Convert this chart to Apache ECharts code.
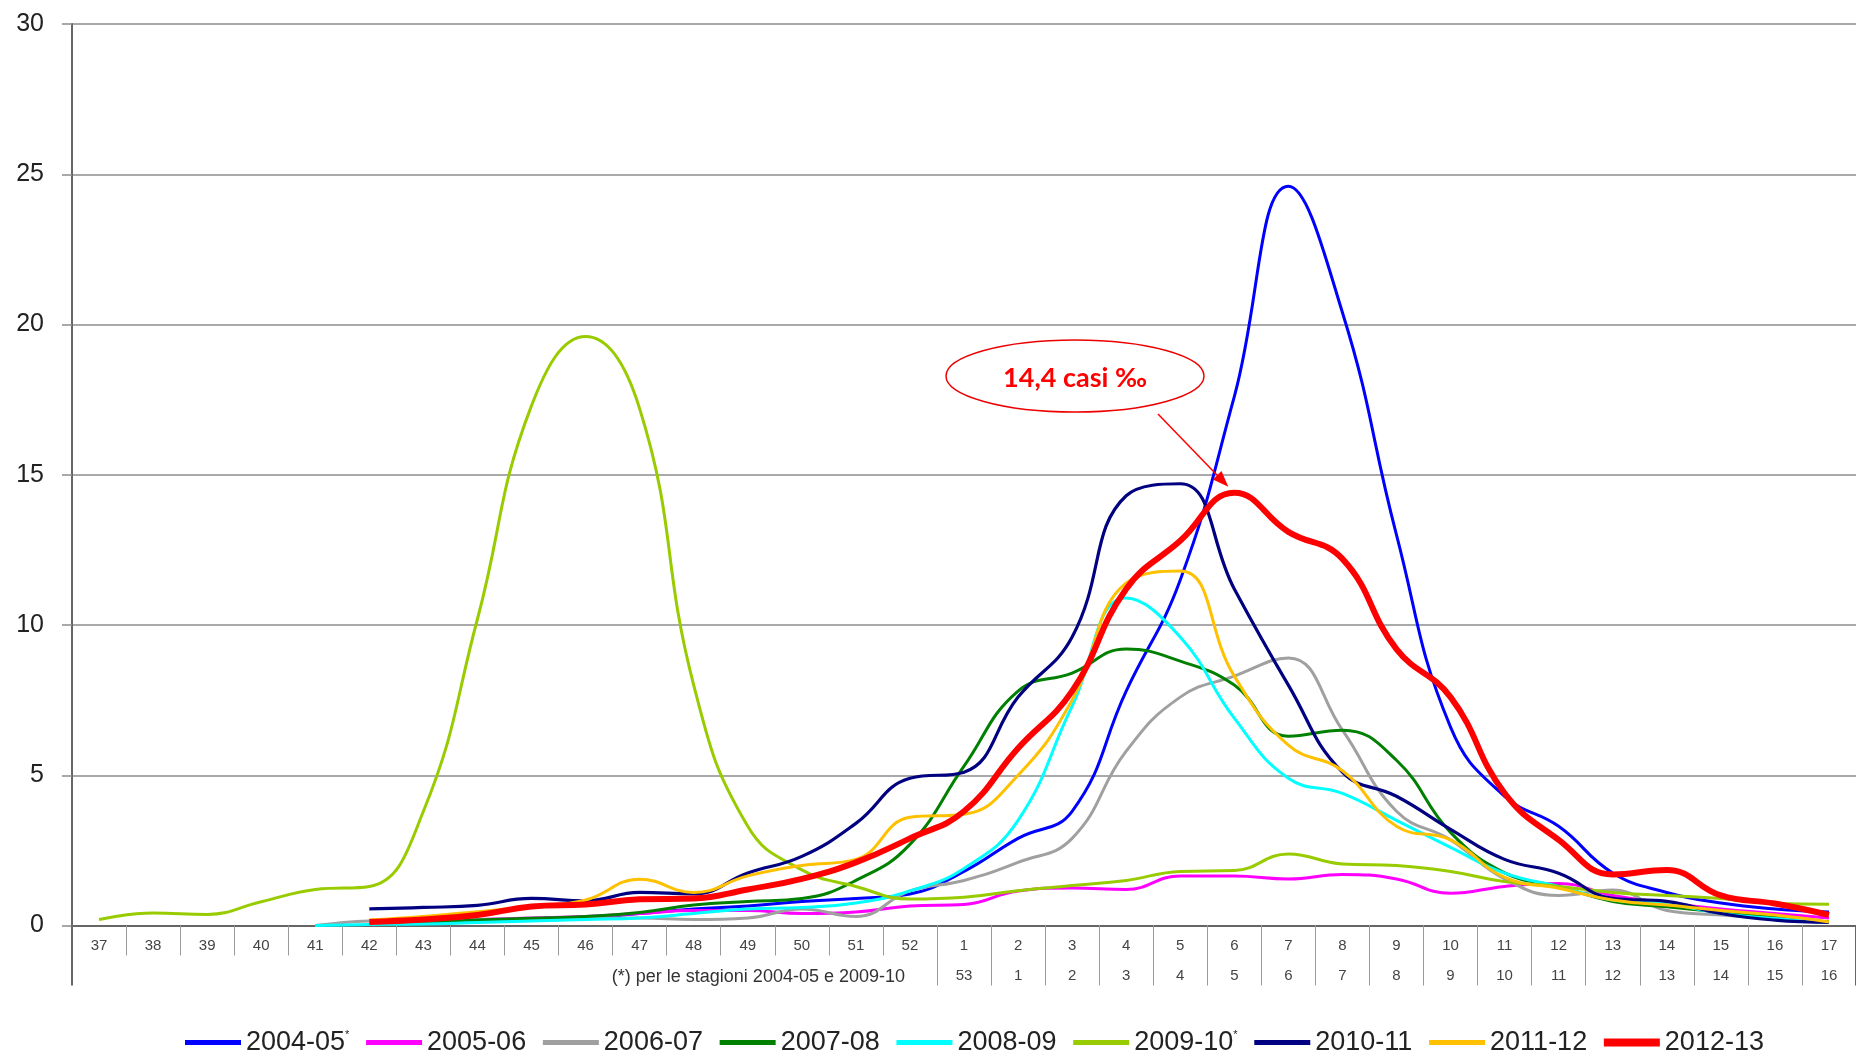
<!DOCTYPE html>
<html>
<head>
<meta charset="utf-8">
<script src="https://cdn.jsdelivr.net/npm/echarts@6/dist/echarts.min.js"></script>
<style>
html,body{margin:0;padding:0;background:#fff;}
#chart{width:1856px;height:1050px;}
</style>
</head>
<body>
<div id="chart"></div>
<script>
// ---- data ----
const weeks = ['37','38','39','40','41','42','43','44','45','46','47','48','49','50','51','52',
  '1','2','3','4','5','6','7','8','9','10','11','12','13','14','15','16','17'];
const weeksAlt = ['','','','','','','','','','','','','','','','',
  '53','1','2','3','4','5','6','7','8','9','10','11','12','13','14','15','16'];
const yTicks = [0,5,10,15,20,25,30];
const seasons = ['2004-05*','2005-06','2006-07','2007-08','2008-09','2009-10*','2010-11','2011-12','2012-13'];
const colors = ['#0000FF','#FF00FF','#A0A0A0','#008000','#00FFFF','#99CC00','#000080','#FFC000','#FF0000'];

const s2004_05 = [null,null,null,null,null,0.05,0.1,0.15,0.2,0.25,0.4,0.55,0.65,0.8,0.9,1.05,
  1.8,2.9,3.8,7.8,11.5,17.6,24.6,20.4,13.0,6.6,4.3,3.3,1.75,1.1,0.75,0.55,0.45];
const s2005_06 = [null,null,null,null,null,0.1,0.15,0.2,0.25,0.3,0.4,0.5,0.5,0.4,0.45,0.65,
  0.7,1.15,1.25,1.2,1.65,1.65,1.55,1.7,1.55,1.07,1.3,1.4,1.0,0.75,0.55,0.4,0.25];
const s2006_07 = [null,null,null,null,0,0.15,0.18,0.2,0.22,0.25,0.25,0.2,0.25,0.55,0.3,1.15,
  1.5,2.1,2.9,5.8,7.6,8.3,8.9,6.5,3.8,2.85,1.55,1.0,1.18,0.5,0.35,0.23,0.12];
const s2007_08 = [null,null,null,null,null,0.05,0.08,0.18,0.24,0.3,0.43,0.68,0.8,0.9,1.5,2.7,
  5.3,7.8,8.4,9.2,8.8,8.0,6.3,6.5,5.5,3.1,1.75,1.3,0.8,0.62,0.45,0.3,0.12];
const s2008_09 = [null,null,null,null,0,0.03,0.05,0.1,0.15,0.2,0.25,0.4,0.55,0.6,0.75,1.15,
  1.9,3.5,7.3,10.9,9.6,6.9,4.9,4.4,3.5,2.6,1.74,1.3,0.85,0.73,0.4,0.23,0.1];
const s2009_10 = [0.2,0.42,0.37,0.79,1.2,1.3,3.8,10.2,17.3,19.6,17.2,8.0,3.3,1.85,1.3,0.88,
  0.94,1.16,1.33,1.5,1.8,1.83,2.38,2.05,2.0,1.8,1.46,1.3,1.1,1.0,0.9,0.73,0.71];
const s2010_11 = [null,null,null,null,null,0.55,0.6,0.67,0.9,0.82,1.1,1.05,1.75,2.3,3.4,4.9,
  5.1,7.6,9.6,14.3,14.7,11.2,8.0,5.1,4.3,3.2,2.2,1.74,0.9,0.8,0.4,0.18,0.1];
const s2011_12 = [null,null,null,null,null,0.18,0.3,0.46,0.63,0.85,1.54,1.1,1.65,2.0,2.2,3.6,
  3.7,5.0,7.5,11.4,11.8,8.3,6.0,5.15,3.3,2.85,1.6,1.24,0.85,0.68,0.5,0.35,0.12];
const s2012_13 = [null,null,null,null,null,0.12,0.2,0.35,0.63,0.7,0.87,0.9,1.2,1.55,2.1,2.9,
  3.8,5.9,7.8,11.2,12.8,14.4,13.1,12.2,9.2,7.6,4.4,2.85,1.7,1.85,1.0,0.73,0.35];
const seriesData = [s2004_05,s2005_06,s2006_07,s2007_08,s2008_09,s2009_10,s2010_11,s2011_12,s2012_13];
const widths = [3,3,3,3,3,3,3.2,3,6];
const legendThick = [5,5,5,5,5,5,5,5,8];
const peakLabel = '14,4 casi ‰';
const noteText = '(*) per le stagioni 2004-05 e 2009-10';

// ---- chart ----
const chart = echarts.init(document.getElementById('chart'), null, {renderer:'canvas'});
const sans = '"Liberation Sans",Arial,sans-serif';
const catW = 54.3;

const option = {
  animation:false,
  backgroundColor:'#fff',
  grid:{left:72, top:24, width:catW*weeks.length, height:901.5, containLabel:false},
  legend:{
    data: seasons.map(function(n,k){ return {name:n, icon:'path://M0,0H56V'+legendThick[k]+'H0Z'}; }),
    top:1024, left:180, itemWidth:56, itemHeight:8, itemGap:16.7,
    formatter:function(n){ return n.endsWith('*') ? '{t|'+n.slice(0,-1)+'}{s|*}' : '{t|'+n+'}'; },
    textStyle:{fontSize:27, fontFamily:sans, color:'#222', rich:{
      t:{fontSize:27, fontFamily:sans, color:'#222'},
      s:{fontSize:11, fontFamily:sans, color:'#222', verticalAlign:'top', padding:[0,0,14,0]}
    }}
  },
  xAxis:[
    {type:'category', data:weeks, position:'bottom', boundaryGap:true,
      axisLine:{show:true, lineStyle:{color:'#666', width:2}},
      axisTick:{show:true, interval:0, length:30, lineStyle:{color:'#9a9a9a', width:1}},
      axisLabel:{interval:0, margin:5, fontSize:15, color:'#444', fontFamily:sans, lineHeight:30,
        formatter:function(v,i){ return weeksAlt[i] ? v+'\n'+weeksAlt[i] : v; }},
      splitLine:{show:false}},
    {type:'category', data:weeks, position:'bottom', boundaryGap:true,
      axisLine:{show:false}, axisLabel:{show:false}, splitLine:{show:false},
      axisTick:{show:true, interval:function(i){ return i>=16; }, length:60, lineStyle:{color:'#9a9a9a', width:1}}},
    {type:'category', data:weeks, position:'bottom', boundaryGap:true,
      axisLine:{show:false}, axisLabel:{show:false}, splitLine:{show:false},
      axisTick:{show:true, interval:function(i){ return i===0; }, length:60, lineStyle:{color:'#666', width:2}}}
  ],
  yAxis:{type:'value', min:yTicks[0], max:yTicks[yTicks.length-1], interval:5,
    axisLine:{show:true, lineStyle:{color:'#666', width:2}},
    axisTick:{show:true, length:10, lineStyle:{color:'#8c8c8c', width:1.5}},
    splitLine:{show:true, lineStyle:{color:'#8c8c8c', width:1.5}},
    axisLabel:{fontSize:25, color:'#222', margin:28, fontFamily:sans}},
  series: seasons.map(function(name,k){
    return {name:name, type:'line', xAxisIndex:0, yAxisIndex:0, data:seriesData[k],
      smooth:0.45, showSymbol:false, symbol:'none', connectNulls:false,
      lineStyle:{color:colors[k], width:widths[k]}, itemStyle:{color:colors[k]}, z:2+k};
  })
};
chart.setOption(option);

// annotation anchored on the 2012-13 peak
const pi = s2012_13.indexOf(Math.max.apply(null, s2012_13.filter(function(v){return v!=null;})));
const p = chart.convertToPixel({xAxisIndex:0, yAxisIndex:0}, [pi, s2012_13[pi]]);
const tip = [p[0]-6, p[1]-6];
const start = [1158, 414];
const dx = tip[0]-start[0], dy = tip[1]-start[1], L = Math.sqrt(dx*dx+dy*dy);
const ux = dx/L, uy = dy/L;
const base = [tip[0]-ux*16, tip[1]-uy*16];
chart.setOption({graphic:[
  {type:'ellipse', z:100, shape:{cx:1075, cy:376, rx:129, ry:36},
    style:{fill:'rgba(255,255,255,0)', stroke:'#ee0000', lineWidth:1.5}},
  {type:'text', z:101, x:1075, y:378,
    style:{text:peakLabel, fill:'#ff0000', font:'bold 27px Lato, "Open Sans", sans-serif', align:'center', verticalAlign:'middle'}},
  {type:'line', z:100, shape:{x1:start[0], y1:start[1], x2:base[0], y2:base[1]},
    style:{stroke:'#ff0000', lineWidth:1.5}},
  {type:'polygon', z:100, shape:{points:[tip,[base[0]-uy*6, base[1]+ux*6],[base[0]+uy*6, base[1]-ux*6]]},
    style:{fill:'#ff0000'}},
  {type:'text', z:100, x:905, y:977,
    style:{text:noteText, fill:'#333', font:'18px '+sans, align:'right', verticalAlign:'middle'}}
]});
</script>
</body>
</html>
